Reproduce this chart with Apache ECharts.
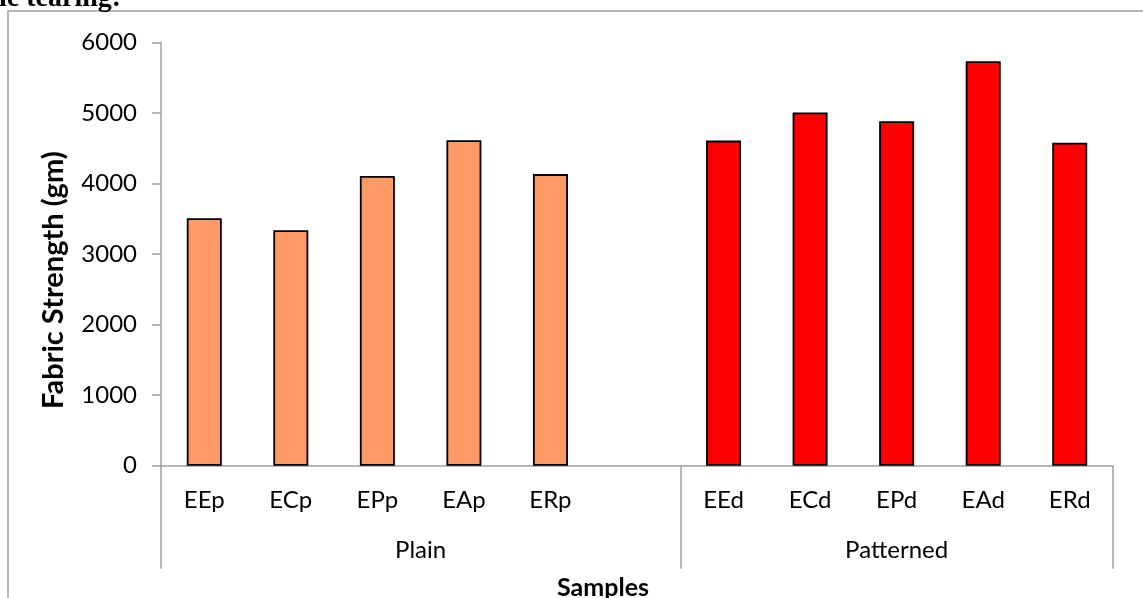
<!DOCTYPE html>
<html>
<head>
<meta charset="utf-8">
<script src="https://cdn.jsdelivr.net/npm/echarts@6/dist/echarts.min.js"></script>
<style>
html,body{margin:0;padding:0;background:#fff;}
#chart{width:1143px;height:598px;}
</style>
</head>
<body>
<div id="chart"></div>
<script>
const categories = ['EEp','ECp','EPp','EAp','ERp','','EEd','ECd','EPd','EAd','ERd'];
const plainValues = [3510, 3340, 4110, 4615, 4135];
const patternedValues = [4610, 5010, 4885, 5735, 4580];
const groupNames = ['Plain', 'Patterned'];
const groupSizes = [6, 5];
const yTicks = [0, 1000, 2000, 3000, 4000, 5000, 6000];

const plainSeries = categories.map((c, i) => i < plainValues.length ? plainValues[i] : null);
const patternedSeries = categories.map((c, i) => i >= groupSizes[0] ? patternedValues[i - groupSizes[0]] : null);

const groupBounds = [0, groupSizes[0], groupSizes[0] + groupSizes[1]];
const groupCenters = [groupSizes[0] / 2, groupSizes[0] + groupSizes[1] / 2];

const font = 'Lato, "Open Sans", sans-serif';
const axisGray = '#a0a0a0';

const chart = echarts.init(document.getElementById('chart'), null, {renderer: 'canvas'});
chart.setOption({
  backgroundColor: '#fff',
  animation: false,
  graphic: [
    {type: 'rect', shape: {x: 8, y: 11, width: 1300, height: 800},
     style: {fill: 'none', stroke: axisGray, lineWidth: 1.5}, silent: true},
    {type: 'text', x: -1, y: 13,
     style: {text: 'ic tearing:', font: 'bold 28px "Liberation Serif", serif', fill: '#000', verticalAlign: 'bottom'}}
  ],
  grid: {left: 161, right: 30, top: 42.6, bottom: 132.3, containLabel: false, outerBoundsMode: 'none'},
  xAxis: [
    {
      type: 'category', data: categories, position: 'bottom',
      axisLine: {lineStyle: {color: axisGray, width: 1.5}},
      axisTick: {show: false},
      axisLabel: {color: '#000', fontFamily: font, fontSize: 24, margin: 23, interval: 0}
    },
    {
      type: 'value', min: 0, max: groupBounds[2], position: 'bottom',
      axisLine: {show: false},
      splitLine: {show: false},
      axisTick: {show: true, customValues: groupBounds, length: 103, lineStyle: {color: axisGray, width: 1.5}},
      axisLabel: {customValues: groupCenters, color: '#000', fontFamily: font, fontSize: 24, margin: 73,
        formatter: v => groupNames[groupCenters.indexOf(v)] || ''},
      name: 'Samples', nameLocation: 'middle', nameGap: 110,
      nameTextStyle: {color: '#000', fontFamily: font, fontSize: 25, fontWeight: 'bold', padding: [0, 68, 0, 0]}
    }
  ],
  yAxis: {
    type: 'value', min: yTicks[0], max: yTicks[yTicks.length - 1], interval: 1000,
    axisLine: {show: true, lineStyle: {color: axisGray, width: 1.5}},
    axisTick: {show: true, length: 9, lineStyle: {color: axisGray, width: 1.5}},
    splitLine: {show: false},
    axisLabel: {color: '#000', fontFamily: font, fontSize: 24, margin: 24, formatter: v => String(v)},
    name: 'Fabric Strength (gm)', nameLocation: 'middle', nameGap: 93,
    nameTextStyle: {color: '#000', fontFamily: font, fontSize: 29, fontWeight: 'bold', padding: [0, 52, 0, 0]}
  },
  series: [
    {type: 'bar', name: 'Plain', data: plainSeries, barWidth: 35, barGap: '-100%', xAxisIndex: 0,
     itemStyle: {color: '#FF9966', borderColor: '#000', borderWidth: 1.8}},
    {type: 'bar', name: 'Patterned', data: patternedSeries, barWidth: 35, barGap: '-100%', xAxisIndex: 0,
     itemStyle: {color: '#FF0000', borderColor: '#000', borderWidth: 1.8}}
  ]
});
</script>
</body>
</html>
